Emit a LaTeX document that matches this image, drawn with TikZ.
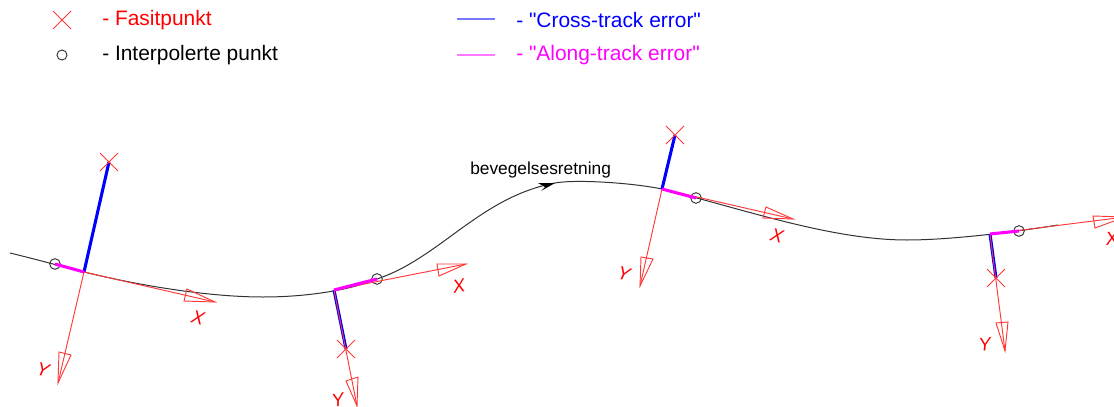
\documentclass[tikz,border=0pt]{standalone}
\usepackage{fontspec}
\newfontfamily\plainsans{Liberation Sans}
\definecolor{axred}{RGB}{255,55,55}
\definecolor{fblue}{RGB}{0,0,255}
\definecolor{fmag}{RGB}{255,0,255}
\definecolor{legblue}{RGB}{120,120,255}
\definecolor{legmag}{RGB}{255,120,255}
\definecolor{curvegray}{RGB}{50,50,50}
\begin{document}
\begin{tikzpicture}[x=0.75pt,y=-0.75pt,
  axisline/.style={draw=axred,line width=0.7pt},
  fasit/.style={draw=axred,line width=0.6pt},
  crosstrack/.style={draw=fblue,line width=2.3pt},
  alongtrack/.style={draw=fmag,line width=2.3pt},
  interp/.style={circle,draw=curvegray,line width=0.7pt,minimum size=8pt,inner sep=0pt,fill=none},
  trackline/.style={draw=curvegray,line width=0.75pt},
  legendtxt/.style={anchor=west,inner sep=0pt,font=\plainsans\fontsize{15.7pt}{18pt}\selectfont},
  axlabel/.style={text=red,inner sep=0pt,font=\plainsans\itshape\fontsize{14pt}{16pt}\selectfont}]
\useasboundingbox (0,0) rectangle (1114,407);
% legend lines
\coordinate (b1) at (457,19); \coordinate (b2) at (495,19);
\coordinate (m1) at (457,55); \coordinate (m2) at (495,55);
\fill[legblue] ([yshift=-0.6]b1) rectangle ([yshift=0.6]b2);
\fill[legmag] ([yshift=-0.6]m1) rectangle ([yshift=0.6]m2);
% track
\draw[trackline] (10,253) .. controls (35,259) and (60,266) .. (84,272)
  .. controls (150,288) and (215,297) .. (263,297)
  .. controls (300,297) and (345,292) .. (377,279)
  .. controls (440,258) and (480,197) .. (555,183)
  .. controls (575,179.3) and (630,182.5) .. (662,189)
  .. controls (740,208) and (830,240) .. (907,240)
  .. controls (950,240) and (1015,232) .. (1058,225);
% reference points
\coordinate (o1) at (84,272);  \coordinate (x1) at (215,302);  \coordinate (y1) at (58,383);
\coordinate (o2) at (334,290); \coordinate (x2) at (466,264);  \coordinate (y2) at (357,406);
\coordinate (o3) at (662,189); \coordinate (x3) at (793,219);  \coordinate (y3) at (640,286);
\coordinate (o4) at (990,234); \coordinate (x4) at (1125,217); \coordinate (y4) at (1005,351);
\coordinate (f1) at (109,162); \coordinate (f2) at (346,349);
\coordinate (f3) at (675,135); \coordinate (f4) at (996,278);
\node[interp] (i1) at (55,264) {};
\node[interp] (i2) at (377,279) {};
\node[interp] (i3) at (696,198) {};
\node[interp] (i4) at (1019,231) {};
% cross-track
\foreach \n in {1,2,3,4} \draw[crosstrack] (o\n) -- (f\n);
% axes
\foreach \n in {1,2,3,4} {
  \draw[axisline] (o\n) -- (x\n);
  \draw[axisline] (o\n) -- (y\n);
}
\draw[axisline] (x1) -- (187,289) -- (184,301) -- cycle;
\draw[axisline] (y1) -- (59,352) -- (71,355) -- cycle;
\draw[axisline] (x2) -- (437,264) -- (439,276) -- cycle;
\draw[axisline] (y2) -- (346,381) -- (358,377) -- cycle;
\draw[axisline] (x3) -- (766,207) -- (763,218) -- cycle;
\draw[axisline] (y3) -- (641,257) -- (653,259) -- cycle;
\draw[axisline] (x4) -- (1093,216) -- (1095,228) -- cycle;
\draw[axisline] (y4) -- (996,323) -- (1008,322) -- cycle;
% along-track
\foreach \n in {1,2,3,4} \draw[alongtrack] (o\n) -- (i\n.center);
% fasit crosses
\foreach \n in {1,2,3,4} {
  \draw[fasit] ([shift={(-9,-9)}]f\n) -- ([shift={(9,9)}]f\n);
  \draw[fasit] ([shift={(-9,9)}]f\n) -- ([shift={(9,-9)}]f\n);
}
% axis labels
\node[axlabel,rotate=-14] (lx1) at (198,318) {X};
\node[axlabel,rotate=-14] (ly1) at (43,370) {Y};
\node[axlabel,rotate=10] (lx2) at (459,286) {X};
\node[axlabel,rotate=10] (ly2) at (338,400) {Y};
\node[axlabel,rotate=-14] (lx3) at (777,236) {X};
\node[axlabel,rotate=-14] (ly3) at (624,274) {Y};
\node[axlabel,rotate=6] (lx4) at (1112,238) {X};
\node[axlabel,rotate=6] (ly4) at (985,344) {Y};
% direction
\coordinate (dt) at (555,183);
\fill[black] (dt) -- (538,183) -- (545,187) -- (541,191) -- cycle;
\node[anchor=west,inner sep=0pt,font=\plainsans\fontsize{13pt}{15pt}\selectfont] (dir) at (470,170.5) {bevegelsesretning};
% legend
\coordinate (lc) at (62,20);
\draw[fasit] ([shift={(-9,-9)}]lc) -- ([shift={(9,9)}]lc);
\draw[fasit] ([shift={(-9,9)}]lc) -- ([shift={(9,-9)}]lc);
\node[interp,minimum size=7.5pt] (li) at (62,55) {};
\node[legendtxt,text=red] (t1) at (102,20) {- Fasitpunkt};
\node[legendtxt,text=black] (t2) at (102,55.5) {- Interpolerte punkt};
\node[legendtxt,text=fblue] (t3) at (516,20) {- "Cross-track error"};
\node[legendtxt,text=fmag] (t4) at (516,55.5) {- "Along-track error"};
\end{tikzpicture}
\end{document}
